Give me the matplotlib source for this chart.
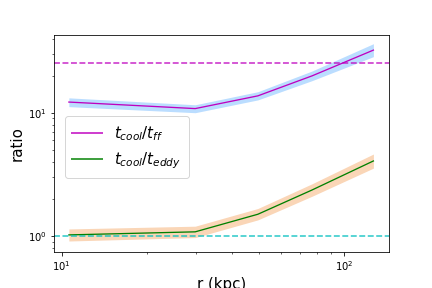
import numpy as np
import matplotlib
matplotlib.use('Agg')
from matplotlib import pyplot as plt
from matplotlib.lines import Line2D

# radial bins (kpc)
r = [10.6, 29.7, 49.5, 77.0, 127.0]

# t_cool / t_ff : median and band
ff_mid = [12.2, 10.8, 13.7, 19.9, 32.2]
ff_lo = [11.2, 10.0, 12.7, 18.2, 28.5]
ff_hi = [13.2, 11.6, 14.8, 21.8, 36.3]

# t_cool / t_eddy : median and band
ed_mid = [1.02, 1.08, 1.50, 2.36, 4.06]
ed_lo = [0.91, 0.97, 1.35, 2.10, 3.55]
ed_hi = [1.14, 1.20, 1.67, 2.65, 4.62]

ff_ref = 25.4
ed_ref = 1.0

fig = plt.figure(figsize=(6, 4), dpi=72)
plt.subplots_adjust(left=0.125, right=0.9, top=0.878, bottom=0.125)

plt.fill_between(r, ff_lo, ff_hi, color='dodgerblue', alpha=0.3, lw=0)
plt.plot(r, ff_mid, c='m', lw=1.3)
plt.fill_between(r, ed_lo, ed_hi, color='sandybrown', alpha=0.45, lw=0)
plt.plot(r, ed_mid, c='g', lw=1.3)

plt.axhline(ff_ref, c='m', ls='--', alpha=0.8, lw=1.6)
plt.axhline(ed_ref, c='c', ls='--', alpha=0.8, lw=1.6)

plt.xscale('log')
plt.yscale('log')
plt.xlim(9.39, 144)
plt.ylim(0.741, 42.6)

plt.xlabel('r (kpc)', fontsize=15)
plt.ylabel('ratio', fontsize=15)

handles = [Line2D([], [], c='m', alpha=0.75, lw=2),
           Line2D([], [], c='g', alpha=0.75, lw=2)]
plt.legend(handles, [r'$t_{cool}/t_{ff}$', r'$t_{cool}/t_{eddy}$'],
           fontsize=15, loc='upper left', bbox_to_anchor=(0.01, 0.66),
           borderpad=0.5)

plt.savefig('out.png', dpi=72)
